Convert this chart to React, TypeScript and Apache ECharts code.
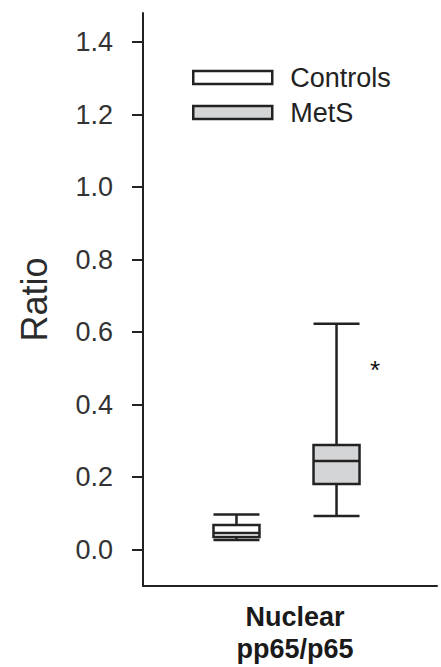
import React, { useEffect, useRef } from "react";
import * as echarts from "echarts";

const categories = ["Nuclear\npp65/p65"];
const seriesNames = ["Controls", "MetS"];
const seriesFills = ["#ffffff", "#d4d5d6"];
// [min, Q1, median, Q3, max]
const controlsBox = [0.027, 0.035, 0.046, 0.068, 0.097];
const metsBox = [0.093, 0.181, 0.245, 0.289, 0.623];
const yTicks = [0, 0.2, 0.4, 0.6, 0.8, 1.0, 1.2, 1.4];
const yMin = -0.1;
const yMax = 1.48;
const significance = "*";

export default function App() {
  const ref = useRef<HTMLDivElement>(null);
  useEffect(() => {
    if (!ref.current) return;
    const chart = echarts.init(ref.current, null, { renderer: "svg" });
    const axisColor = "#222";
    const font = "Liberation Sans, Arial, sans-serif";
    const gridTop = 13;
    const gridBottom = 81;
    chart.setOption({
      animation: false,
      backgroundColor: "#fff",
      grid: [
        { left: 143, right: 4, top: gridTop, bottom: gridBottom, outerBoundsMode: "none", containLabel: false },
        { left: 176.5, width: 220, top: gridTop, bottom: gridBottom, outerBoundsMode: "none", containLabel: false },
      ],
      legend: {
        orient: "vertical",
        left: 192,
        top: 64,
        padding: 0,
        itemGap: 8,
        itemWidth: 79,
        itemHeight: 13,
        icon: "rect",
        data: seriesNames.map((name, i) => ({
          name,
          itemStyle: { color: seriesFills[i], borderColor: axisColor, borderWidth: 2.5 },
        })),
        textStyle: {
          fontFamily: font,
          fontSize: 27,
          lineHeight: 24,
          color: "#222",
          padding: [0, 0, 0, 13],
        },
      },
      xAxis: [
        {
          type: "category",
          gridIndex: 0,
          data: categories,
          axisLine: { show: true, onZero: false, lineStyle: { color: axisColor, width: 2 } },
          axisTick: { show: false },
          axisLabel: {
            margin: 15,
            fontFamily: font,
            fontWeight: "bold",
            fontSize: 27,
            lineHeight: 32,
            color: "#1a1a1a",
            padding: [0, 0, 0, 10],
          },
        },
        {
          type: "category",
          gridIndex: 1,
          data: categories,
          show: false,
        },
      ],
      yAxis: [
        {
          type: "value",
          gridIndex: 0,
          min: yMin,
          max: yMax,
          name: "Ratio",
          nameLocation: "middle",
          nameRotate: 90,
          nameGap: 91,
          nameTextStyle: {
            fontFamily: font,
            fontSize: 36,
            color: "#2b2b2b",
          },
          axisLine: { show: true, lineStyle: { color: axisColor, width: 2 } },
          axisTick: {
            show: true,
            length: 11,
            lineStyle: { color: axisColor, width: 2 },
            customValues: yTicks,
          },
          axisLabel: {
            margin: 30,
            fontFamily: font,
            fontSize: 27,
            color: "#333",
            customValues: yTicks,
            formatter: (v: number) => v.toFixed(1),
          },
          splitLine: { show: false },
        },
        {
          type: "value",
          gridIndex: 1,
          min: yMin,
          max: yMax,
          show: false,
          splitLine: { show: false },
        },
      ],
      series: [controlsBox, metsBox].map((box, i) => ({
        name: seriesNames[i],
        type: "boxplot",
        xAxisIndex: 1,
        yAxisIndex: 1,
        boxWidth: [46, 46],
        data: [box],
        itemStyle: { color: seriesFills[i], borderColor: axisColor, borderWidth: 2.5 },
        emphasis: { disabled: true },
      })),
      graphic: [
        {
          type: "text",
          x: 375,
          y: 370,
          style: {
            text: significance,
            fontFamily: font,
            fontSize: 26,
            fill: "#111",
            align: "center",
            verticalAlign: "middle",
          },
        },
      ],
    });
    return () => chart.dispose();
  }, []);
  return (
    <div
      ref={ref}
      style={{ position: "absolute", left: 0, top: 0, width: 441, height: 667 }}
    />
  );
}
